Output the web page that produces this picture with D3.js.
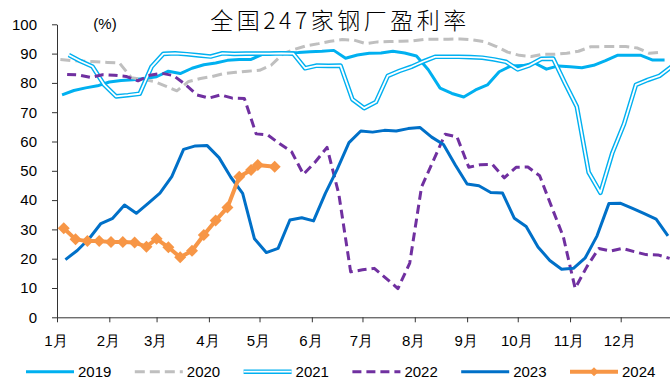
<!DOCTYPE html>
<html>
<head>
<meta charset="utf-8">
<script src="https://cdn.jsdelivr.net/npm/d3@7"></script>
<style>
  html, body { margin: 0; padding: 0; background: #fff; }
  svg { display: block; font-family: Arial, "Liberation Sans", sans-serif; }
</style>
</head>
<body>
<svg id="chart" width="670" height="385"></svg>
<script>
// 全国247家钢厂盈利率 (%), weekly readings, one line per year
const months = ["1月","2月","3月","4月","5月","6月","7月","8月","9月","10月","11月","12月"];
const yTicks = [0,10,20,30,40,50,60,70,80,90,100];
const years = ["2019","2020","2021","2022","2023","2024"];
// first weekly release date of each year (month-day)
const firstDates = ["01-04","01-03","01-08","01-07","01-06","01-05"];

const v2019 = [75.9,77.4,78.3,79.0,80.3,80.8,81.1,81.5,82.1,84.0,
               83.2,85.0,86.2,86.8,87.7,88.0,88.0,89.8,90.2,90.3,
               90.4,90.6,90.8,91.1,88.4,89.5,90.1,90.2,90.8,90.2,
               89.2,84.5,78.2,76.4,75.2,77.6,79.3,83.8,85.8,85.9,
               86.8,84.7,85.8,85.5,85.2,86.0,87.6,89.4,89.4,89.4,
               87.8,87.8];
const v2020 = [88.0,87.6,87.4,87.2,87.0,86.8,81.8,81.2,80.4,79.0,
               77.3,80.5,81.5,82.2,83.2,83.6,84.0,84.3,86.1,90.0,
               91.5,92.7,93.4,94.2,94.8,94.6,93.4,94.0,94.1,94.2,
               94.4,94.9,94.9,94.9,95.0,94.7,94.1,92.5,90.5,89.4,
               89.0,89.8,89.8,90.1,90.8,92.3,92.4,92.4,92.4,91.9,
               90.1,90.5];
const v2021 = [89.5,87.4,85.6,79.3,75.4,75.8,76.3,85.5,89.9,90.1,
               89.8,89.4,89.0,90.1,89.9,90.0,90.0,90.0,90.1,90.0,
               85.0,85.9,85.8,85.9,74.4,71.4,73.5,82.4,84.1,85.5,
               87.3,88.9,88.9,88.9,88.8,88.6,88.0,87.2,84.6,86.0,
               88.2,88.3,79.9,71.9,49.5,42.5,56.0,66.0,79.3,81.0,
               82.4,85.5];
const v2022 = [82.9,82.7,81.9,82.8,82.6,82.2,80.7,82.6,83.3,82.5,
               79.5,75.9,74.8,75.9,74.8,74.7,62.6,62.2,59.2,56.5,
               48.8,53.0,58.0,42.0,15.5,16.2,16.7,13.3,9.8,18.5,
               44.5,53.5,62.5,61.6,51.2,52.1,52.2,47.6,51.2,51.3,
               48.3,37.8,27.5,9.9,17.3,23.5,22.6,23.5,22.4,21.4,
               21.3,20.1];
const v2023 = [19.7,22.8,26.8,32.0,33.8,38.3,35.5,38.9,42.4,48.0,
               57.3,58.5,58.6,54.5,47.8,42.3,26.8,22.1,23.5,33.2,
               34.0,32.9,42.3,50.5,59.6,63.6,63.2,63.8,63.6,64.4,
               64.8,61.5,59.0,52.0,45.5,44.9,42.6,42.4,33.8,31.0,
               24.0,19.4,16.4,16.7,20.3,27.8,38.8,38.9,37.2,35.4,
               33.5,27.8];
const v2024 = [30.4,26.6,26.0,26.0,25.7,25.7,25.5,24.1,26.8,23.9,
               20.5,22.7,28.1,33.0,37.5,48.0,50.3,52.0,51.4];
const dates2024 = ["01-05","01-12","01-19","01-26","02-02","02-09","02-16","02-23",
                   "03-01","03-08","03-15","03-22","03-29","04-05","04-12","04-19",
                   "04-26","04-30","05-10"];

const values = [v2019, v2020, v2021, v2022, v2023, v2024];

// every year is placed on one shared calendar year
const BASE = 2001;
const onBase = d => new Date(BASE, d.getMonth(), d.getDate());
function weeklyDates(year, first, n) {
  const [m, d] = first.split("-").map(Number);
  const start = new Date(+year, m - 1, d);
  return d3.range(n).map(k => onBase(d3.timeDay.offset(start, 7 * k)));
}
function listedDates(list) {
  return list.map(s => { const [m, d] = s.split("-").map(Number); return new Date(BASE, m - 1, d); });
}

const series = years.map((yr, i) => {
  const v = values[i];
  const dates = yr === "2024" ? listedDates(dates2024) : weeklyDates(yr, firstDates[i], v.length);
  return { year: yr, points: v.map((val, k) => ({ date: dates[k], v: val })) };
});

const svg = d3.select("#chart");
const plotLeft = 57, plotBottom = 317.3, plotTop = 24.3;
const x = d3.scaleTime()
  .domain([new Date(BASE, 0, 1), new Date(BASE + 1, 0, 1)])
  .range([plotLeft, plotLeft + 365 * 1.6877]);
const y = d3.scaleLinear().domain([0, 100]).range([plotBottom, plotTop]);

const axisColor = "#333";

// y axis
const gy = svg.append("g").attr("transform", `translate(${plotLeft},0)`)
  .call(d3.axisLeft(y).tickValues(yTicks).tickSize(5).tickSizeOuter(0).tickPadding(15));
gy.selectAll("path, line").attr("stroke", axisColor);
gy.selectAll("text").attr("font-size", 15).attr("fill", "#000")
  .attr("font-family", "Arial, 'Liberation Sans', sans-serif");

// x axis: month starts
const monthStarts = d3.range(12).map(m => new Date(BASE, m, 1));
const gx = svg.append("g").attr("transform", `translate(0,${plotBottom})`)
  .call(d3.axisBottom(x).tickValues(monthStarts).tickSize(5).tickSizeOuter(0).tickPadding(13)
    .tickFormat((d, i) => months[i]));
gx.selectAll("path, line").attr("stroke", axisColor);
gx.selectAll("text").attr("font-size", 15).attr("fill", "#000").attr("dx", -1.5)
  .attr("font-family", "Arial, 'Liberation Sans', sans-serif");

// series styles
const styles = {
  "2019": { color: "#00B0F0", width: 3 },
  "2020": { color: "#BFBFBF", width: 3, dash: "10,5" },
  "2021": { color: "#00B0F0", width: 4.6, inner: 1.8 },
  "2022": { color: "#7030A0", width: 3, dash: "9,5" },
  "2023": { color: "#0070C8", width: 3 },
  "2024": { color: "#F79646", width: 4, marker: true }
};

const line = d3.line().x(d => x(d.date)).y(d => y(d.v));
const plot = svg.append("g");

series.forEach(s => {
  const st = styles[s.year];
  plot.append("path").datum(s.points)
    .attr("d", line).attr("fill", "none")
    .attr("stroke", st.color).attr("stroke-width", st.width)
    .attr("stroke-linejoin", "round")
    .attr("stroke-dasharray", st.dash || null);
  if (st.inner) {
    plot.append("path").datum(s.points)
      .attr("d", line).attr("fill", "none")
      .attr("stroke", "#fff").attr("stroke-width", st.inner)
      .attr("stroke-linejoin", "round");
  }
  if (st.marker) {
    plot.selectAll(null).data(s.points).enter().append("path")
      .attr("d", d3.symbol().type(d3.symbolSquare).size(72))
      .attr("transform", d => `translate(${x(d.date)},${y(d.v)}) rotate(45)`)
      .attr("fill", st.color);
  }
});

// title and unit
svg.append("text").attr("x", 340).attr("y", 29).attr("text-anchor", "middle")
  .attr("font-family", "'Noto Sans CJK SC', sans-serif").attr("font-size", 23)
  .attr("font-weight", 300).attr("letter-spacing", 3.5).attr("fill", "#000")
  .text("全国247家钢厂盈利率");
svg.append("text").attr("x", 105).attr("y", 29).attr("text-anchor", "middle")
  .attr("font-size", 15).attr("fill", "#000").text("(%)");

// legend
const legendY = 371.7;
const lg = svg.append("g");
years.forEach((yr, i) => {
  const st = styles[yr];
  const x0 = 26 + i * 108.8, x1 = x0 + 48;
  lg.append("line").attr("x1", x0).attr("x2", x1).attr("y1", legendY).attr("y2", legendY)
    .attr("stroke", st.color).attr("stroke-width", st.width)
    .attr("stroke-dasharray", st.dash || null);
  if (st.inner) {
    lg.append("line").attr("x1", x0).attr("x2", x1).attr("y1", legendY).attr("y2", legendY)
      .attr("stroke", "#fff").attr("stroke-width", st.inner);
  }
  if (st.marker) {
    lg.append("path").attr("d", d3.symbol().type(d3.symbolSquare).size(40))
      .attr("transform", `translate(${(x0 + x1) / 2},${legendY}) rotate(45)`)
      .attr("fill", st.color);
  }
  lg.append("text").attr("x", x1 + 4).attr("y", legendY + 5.3)
    .attr("font-size", 15).attr("fill", "#000").text(yr);
});
</script>
</body>
</html>
